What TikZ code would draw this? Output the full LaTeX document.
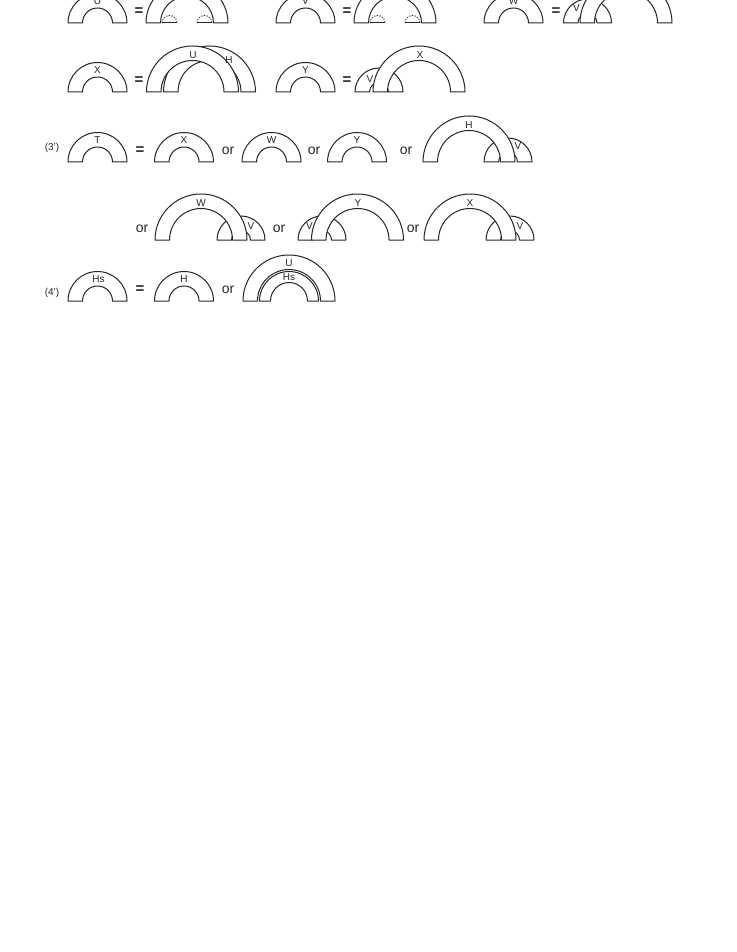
\documentclass[tikz,border=0pt]{standalone}
\usepackage{fontspec}
\setmainfont{Liberation Sans}
\newcommand\archAt[4]{\filldraw[archline] ({#1-#3},{-#2}) arc[start angle=180,end angle=0,radius=#3pt] -- ({#1+#4},{-#2}) arc[start angle=0,end angle=180,radius=#4pt] -- cycle;}
\newcommand\dashCap[3]{\draw[dashline] ({#1-#3},{-#2}) arc[start angle=180,end angle=0,radius=#3pt];\draw[archline] ({#1-#3},{-#2}) -- ({#1+#3},{-#2});}
\begin{document}
\begin{tikzpicture}[x=1pt,y=1pt,
  archline/.style={draw=black!85,fill=white,line width=1pt,line join=round},
  dashline/.style={draw=black!85,line width=0.7pt,dash pattern=on 1.5pt off 1.2pt},
  lbl/.style={font=\fontsize{10}{10}\selectfont,inner sep=0pt,text=black!85},
  eqs/.style={font=\fontsize{15}{15}\selectfont\bfseries,inner sep=0pt,text=black!85},
  ortxt/.style={font=\fontsize{14}{14}\selectfont,inner sep=0pt,text=black!85},
  rulename/.style={font=\fontsize{10}{10}\selectfont,inner sep=0pt,text=black!85}]
\useasboundingbox (0,0) rectangle (736,-952);
\fill[white] (0,0) rectangle (736,-952);
\clip (0,0) rectangle (736,-952);
% ---------- row 1 ----------
\archAt{97.5}{23}{29.5}{15}
\node[lbl] (r1U) at (97.5,-1) {U};
\node[eqs] (r1e1) at (139,-12) {=};
\archAt{187}{23}{41}{26.5}
\dashCap{169.5}{23}{7.5}
\dashCap{204.5}{23}{7.5}
\archAt{305.5}{23}{29.5}{15}
\node[lbl] (r1V) at (305.5,-1) {V};
\node[eqs] (r1e2) at (347,-12) {=};
\archAt{395}{23}{41}{26.5}
\dashCap{377.5}{23}{7.5}
\dashCap{412.5}{23}{7.5}
\archAt{513.5}{23}{29.5}{15}
\node[lbl] (r1W) at (513.5,-1) {W};
\node[eqs] (r1e3) at (556,-12) {=};
\archAt{587.5}{23}{24}{9.5}
\archAt{626}{23}{46}{31.5}
\node[lbl] (r1Vs) at (576.5,-8) {V};
% ---------- row 2 ----------
\archAt{97.5}{92}{29.5}{15}
\node[lbl] (r2X) at (97.5,-70) {X};
\node[eqs] (r2e1) at (139,-81) {=};
\archAt{209.5}{92}{46}{31.5}
\archAt{192.5}{92}{46}{31.5}
\node[lbl] (r2U) at (193,-55) {U};
\node[lbl] (r2H) at (229,-60) {H};
\archAt{305.5}{92}{29.5}{15}
\node[lbl] (r2Y) at (305.5,-70) {Y};
\node[eqs] (r2e2) at (347,-81) {=};
\archAt{379}{92}{24}{9.5}
\archAt{419}{92}{46}{31.5}
\node[lbl] (r2V) at (370,-79) {V};
\node[lbl] (r2Xb) at (420,-55) {X};
% ---------- row 3 ----------
\node[rulename] (r3n) at (52,-148) {(3')};
\archAt{97.5}{162}{29.5}{15}
\node[lbl] (r3T) at (97.5,-140) {T};
\node[eqs] (r3e) at (140,-151) {=};
\archAt{184}{162}{29.5}{15}
\node[lbl] (r3X) at (184,-140) {X};
\node[ortxt] (r3o1) at (228,-151) {or};
\archAt{271.5}{162}{29.5}{15}
\node[lbl] (r3W) at (271.5,-140) {W};
\node[ortxt] (r3o2) at (314,-151) {or};
\archAt{357}{162}{29.5}{15}
\node[lbl] (r3Y) at (357,-140) {Y};
\node[ortxt] (r3o3) at (406,-151) {or};
\archAt{508}{162}{24}{9.5}
\archAt{469}{162}{46}{31.5}
\node[lbl] (r3H) at (469,-125) {H};
\node[lbl] (r3V) at (518,-146) {V};
% ---------- row 4 ----------
\node[ortxt] (r4o1) at (142,-229) {or};
\archAt{241}{240}{24}{9.5}
\archAt{201}{240}{46}{31.5}
\node[lbl] (r4W) at (201,-203) {W};
\node[lbl] (r4V1) at (251,-226) {V};
\node[ortxt] (r4o2) at (279,-229) {or};
\archAt{322}{240}{24}{9.5}
\archAt{357.5}{240}{46}{31.5}
\node[lbl] (r4V2) at (309.5,-226) {V};
\node[lbl] (r4Y) at (358,-203) {Y};
\node[ortxt] (r4o3) at (413,-229) {or};
\archAt{510}{240}{24}{9.5}
\archAt{470}{240}{46}{31.5}
\node[lbl] (r4X) at (470,-203) {X};
\node[lbl] (r4V3) at (520,-226) {V};
% ---------- row 5 ----------
\node[rulename] (r5n) at (52,-293) {(4')};
\archAt{97.5}{301}{29.5}{15}
\node[lbl] (r5Hs) at (98.5,-279) {Hs};
\node[eqs] (r5e) at (140,-290) {=};
\archAt{184}{301}{29.5}{15}
\node[lbl] (r5H) at (184,-279) {H};
\node[ortxt] (r5o) at (228,-290) {or};
\archAt{289}{301}{46}{31.5}
\archAt{289}{301}{29.5}{18.5}
\node[lbl] (r5U) at (289,-263.5) {U};
\node[lbl] (r5Hs2) at (289,-277.5) {Hs};
\end{tikzpicture}
\end{document}
